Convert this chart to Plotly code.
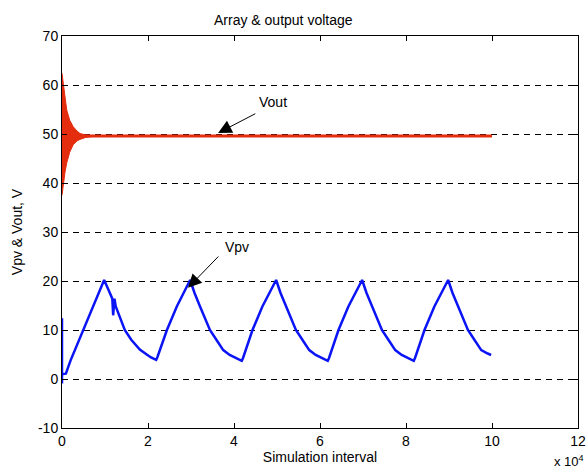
import plotly.graph_objects as go

# ---- data (x in units of 10^4 simulation steps) ----
vpv_x = [0.0, 0.0, 0.0, 0.02, 0.09, 0.2, 0.35, 0.5, 0.65, 0.8, 0.98,
         1.08, 1.17, 1.19, 1.22, 1.25, 1.35, 1.46, 1.61, 1.81, 1.97, 2.07, 2.19,
         2.22, 2.44, 2.67, 2.98,
         3.08, 3.21, 3.33, 3.44, 3.59, 3.75, 3.9, 4.03, 4.18,
         4.21, 4.43, 4.66, 4.98,
         5.08, 5.21, 5.33, 5.44, 5.59, 5.75, 5.9, 6.03, 6.18,
         6.21, 6.43, 6.66, 6.98,
         7.08, 7.21, 7.33, 7.44, 7.59, 7.75, 7.9, 8.03, 8.18,
         8.21, 8.43, 8.66, 8.98,
         9.08, 9.21, 9.33, 9.44, 9.59, 9.75, 9.9, 9.98]
vpv_y = [12.4, -0.9, 1.0, 1.0, 1.1, 3.8, 7.0, 10.0, 13.2, 16.2, 20.2,
         18.2, 16.4, 13.0, 16.4, 14.8, 12.3, 10.0, 8.0, 6.0, 5.0, 4.4, 3.9,
         4.5, 10.0, 14.8, 20.2,
         17.6, 14.8, 12.3, 10.0, 8.0, 5.9, 4.9, 4.3, 3.7,
         4.3, 10.0, 14.8, 20.2,
         17.6, 14.8, 12.3, 10.0, 8.0, 5.9, 4.9, 4.3, 3.7,
         4.3, 10.0, 14.8, 20.2,
         17.6, 14.8, 12.3, 10.0, 8.0, 5.9, 4.9, 4.3, 3.7,
         4.3, 10.0, 14.8, 20.2,
         17.6, 14.8, 12.3, 10.0, 8.0, 5.9, 5.2, 4.9]

vout_x = [0.0, 10.0]
vout_y = [49.6, 49.6]

# oscillation envelope of Vout at start-up
env_x = [0.0, 0.03, 0.07, 0.11, 0.18, 0.26, 0.35, 0.42, 0.55, 0.8]
env_upper = [62.4, 60.0, 57.0, 54.9, 52.8, 51.5, 50.6, 50.1, 49.8, 49.6]
env_lower = [37.5, 40.0, 42.2, 44.1, 46.3, 47.8, 48.6, 48.9, 49.3, 49.6]

x_ticks = [0, 2, 4, 6, 8, 10, 12]
y_ticks = [-10, 0, 10, 20, 30, 40, 50, 60, 70]
y_tick_labels = ["-10", "0", "10", "20", "30", "40", "50", "60", "70"]

RED = "rgb(228,45,15)"
BLUE = "rgb(10,20,245)"
FONT = "Liberation Sans, Arial, sans-serif"

fig = go.Figure()
fig.add_trace(go.Scatter(x=env_x, y=env_lower, mode="lines",
                         line=dict(color=RED, width=1), hoverinfo="skip"))
fig.add_trace(go.Scatter(x=env_x, y=env_upper, mode="lines", fill="tonexty",
                         fillcolor=RED, line=dict(color=RED, width=1), hoverinfo="skip"))
fig.add_trace(go.Scatter(x=vout_x, y=vout_y, mode="lines",
                         line=dict(color=RED, width=3)))
fig.add_trace(go.Scatter(x=vpv_x, y=vpv_y, mode="lines",
                         line=dict(color=BLUE, width=2.5)))

axis_common = dict(showline=True, linecolor="black", linewidth=1, mirror="ticks",
                   ticks="inside", ticklen=5, tickcolor="black", zeroline=False,
                   automargin=False,
                   tickfont=dict(family=FONT, size=14, color="black"))

fig.update_xaxes(range=[0, 12], tickvals=x_ticks, showgrid=False,
                 title=dict(text="Simulation interval", font=dict(family=FONT, size=14, color="black"),
                            standoff=2),
                 **axis_common)
fig.update_yaxes(range=[-10, 70], tickvals=y_ticks, ticktext=y_tick_labels, showgrid=True,
                 gridcolor="black", gridwidth=1, griddash="6px,5px",
                 title=dict(text="Vpv & Vout, V", font=dict(family=FONT, size=14, color="black"),
                            standoff=12),
                 **axis_common)

annotations = [
    dict(x=0.4293, y=1, xref="paper", yref="paper", yshift=6,
         text="Array & output voltage", showarrow=False, xanchor="center", yanchor="bottom",
         font=dict(family=FONT, size=14, color="black")),
    dict(x=1.0, y=0, xref="paper", yref="paper", xanchor="right", yanchor="middle", yshift=-33,
         xshift=8, text="x 10<sup>4</sup>", showarrow=False,
         font=dict(family=FONT, size=13, color="black")),
    dict(x=3.63, y=50.2, ax=4.53, ay=54.3, xref="x", yref="y", axref="x", ayref="y",
         text="", showarrow=True, arrowhead=2, arrowsize=2.7, arrowwidth=1, arrowcolor="black",
         standoff=0, startstandoff=0),
    dict(x=4.53, y=56.5, xref="x", yref="y", text="Vout", showarrow=False,
         xanchor="left", yanchor="middle", font=dict(family=FONT, size=14, color="black")),
    dict(x=2.93, y=18.6, ax=3.67, ay=25.3, xref="x", yref="y", axref="x", ayref="y",
         text="", showarrow=True, arrowhead=2, arrowsize=2.7, arrowwidth=1, arrowcolor="black",
         standoff=0, startstandoff=0),
    dict(x=3.74, y=26.9, xref="x", yref="y", text="Vpv", showarrow=False,
         xanchor="left", yanchor="middle", font=dict(family=FONT, size=14, color="black")),
]

fig.update_layout(
    width=587, height=470,
    margin=dict(l=62, r=9, t=36, b=42),
    paper_bgcolor="white", plot_bgcolor="white",
    showlegend=False,
    annotations=annotations,
    font=dict(family=FONT, size=14, color="black"),
)

fig.write_html(
    "out.html",
    config={"displayModeBar": False},
    post_script="document.body.style.margin='0';document.body.style.overflow='hidden';",
)
